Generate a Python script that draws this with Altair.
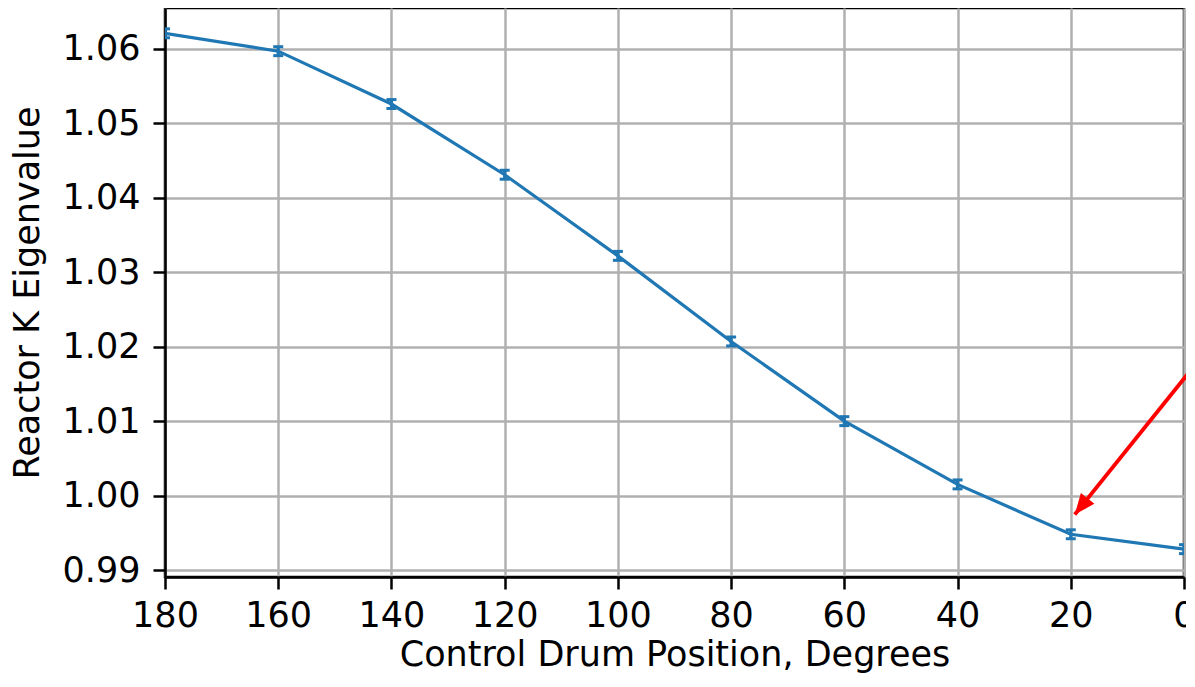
import altair as alt
import pandas as pd

# Data
positions = [180, 160, 140, 120, 100, 80, 60, 40, 20, 0]
k_eff = [1.0621, 1.0597, 1.0526, 1.0431, 1.0322, 1.0207, 1.0100, 1.0015, 0.9948, 0.9928]
k_err = [0.0006, 0.0006, 0.0006, 0.0006, 0.0006, 0.0006, 0.0006, 0.0006, 0.0006, 0.0006]

x_ticks = [0, 20, 40, 60, 80, 100, 120, 140, 160, 180]
y_ticks = [0.99, 1.00, 1.01, 1.02, 1.03, 1.04, 1.05, 1.06]

# Annotation arrow (start outside the plot, tip near the 20-degree point)
arrow_x = [-2.0, 19.3]
arrow_y = [1.0176, 0.99745]

df = pd.DataFrame({"pos": positions, "k": k_eff, "err": k_err})
df["lo"] = df["k"] - df["err"]
df["hi"] = df["k"] + df["err"]

arrow_df = pd.DataFrame({"x": [arrow_x[0]], "y": [arrow_y[0]], "x2": [arrow_x[1]], "y2": [arrow_y[1]]})
head_df = pd.DataFrame({"x": [arrow_x[1]], "y": [arrow_y[1]]})

FONT = "DejaVu Sans"
BLUE = "#1f77b4"
W, H = 1019, 569
FS = 35

xscale = alt.Scale(domain=[0, 180], reverse=True, nice=False, zero=False)
yscale = alt.Scale(domain=[0.98906, 1.0655], nice=False, zero=False)

xaxis = alt.Axis(
    values=x_ticks, format="d", title="Control Drum Position, Degrees",
    labelFont=FONT, labelFontSize=FS, labelColor="black", labelPadding=9,
    titleFont=FONT, titleFontSize=FS, titleFontWeight="normal", titleColor="black",
    titleX=W / 2, titleY=88, titleAlign="center", titleBaseline="alphabetic",
    tickSize=12, tickWidth=2.5, tickColor="black",
    domainColor="black", domainWidth=2.5,
    grid=True, gridColor="#b0b0b0", gridWidth=2.5, labelFlush=False,
)
yaxis = alt.Axis(
    values=y_ticks, format=".2f", title="Reactor K Eigenvalue",
    labelFont=FONT, labelFontSize=FS, labelColor="black", labelPadding=13,
    titleFont=FONT, titleFontSize=FS, titleFontWeight="normal", titleColor="black",
    titleX=-127, titleY=H / 2, titleAngle=270, titleAlign="center", titleBaseline="alphabetic",
    tickSize=12, tickWidth=2.5, tickColor="black",
    domainColor="black", domainWidth=2.5,
    grid=True, gridColor="#b0b0b0", gridWidth=2.5, labelFlush=False,
)

base = alt.Chart(df)

line = base.mark_line(color=BLUE, strokeWidth=3.2, clip=True).encode(
    x=alt.X("pos:Q", scale=xscale, axis=xaxis),
    y=alt.Y("k:Q", scale=yscale, axis=yaxis),
)

bars = base.mark_rule(color=BLUE, strokeWidth=3.2, clip=True).encode(
    x=alt.X("pos:Q", scale=xscale),
    y=alt.Y("lo:Q", scale=yscale),
    y2="hi:Q",
)

cap_lo = base.mark_tick(color=BLUE, orient="horizontal", size=10, thickness=3, clip=True, opacity=1).encode(
    x=alt.X("pos:Q", scale=xscale),
    y=alt.Y("lo:Q", scale=yscale),
)
cap_hi = base.mark_tick(color=BLUE, orient="horizontal", size=10, thickness=3, clip=True, opacity=1).encode(
    x=alt.X("pos:Q", scale=xscale),
    y=alt.Y("hi:Q", scale=yscale),
)

arrow_line = alt.Chart(arrow_df).mark_rule(color="red", strokeWidth=3.8).encode(
    x=alt.X("x:Q", scale=xscale),
    y=alt.Y("y:Q", scale=yscale),
    x2="x2:Q",
    y2="y2:Q",
)

arrow_head = alt.Chart(head_df).mark_point(
    shape="M0,0 L0.42,1 L-0.42,1 Z", filled=True, color="red", opacity=1,
    size=1700, angle=218.7, strokeWidth=0,
).encode(
    x=alt.X("x:Q", scale=xscale),
    y=alt.Y("y:Q", scale=yscale),
)

chart = (
    alt.layer(line, bars, cap_lo, cap_hi, arrow_line, arrow_head)
    .properties(
        width=W, height=H,
        autosize=alt.AutoSizeParams(type="none"),
        padding={"left": 157, "top": 0, "right": 2, "bottom": 96},
        background="white",
    )
    .configure_view(stroke="black", strokeWidth=2.5)
)

chart.save("out.html", embed_options={"renderer": "svg", "actions": False})
